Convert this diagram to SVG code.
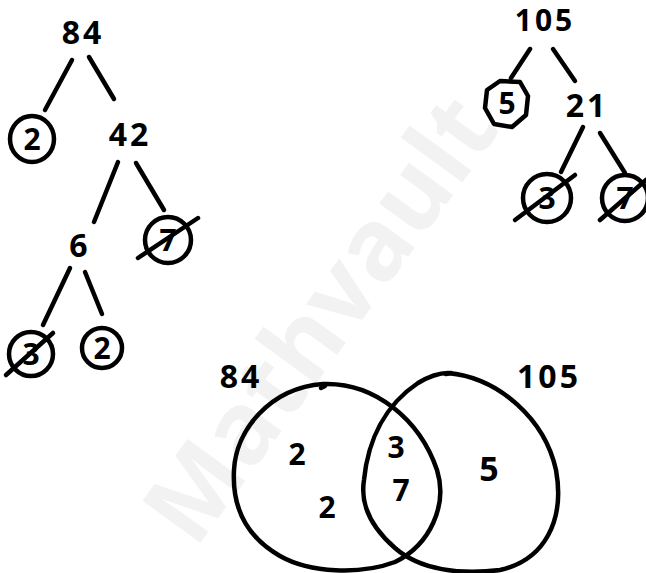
<svg xmlns="http://www.w3.org/2000/svg" width="646" height="573" viewBox="0 0 646 573">
<style>
.t{font-family:"Open Sans","DejaVu Sans",sans-serif;font-weight:700;fill:#000;text-anchor:middle}
.n{font-size:32px;letter-spacing:3px}
.s{font-size:30px}
.c{fill:none;stroke:#000;stroke-width:4.5;stroke-linecap:round;stroke-linejoin:round}
.wm{font-family:"Open Sans",sans-serif;font-weight:700;font-size:100px;fill:#f2f2f2}
</style>
<rect width="646" height="573" fill="#fff"/>
<text class="wm" transform="translate(195,550) rotate(-54)">Mathvault</text>

<g id="connectors" class="c">
  <path d="M72,60 L45,110"/>
  <path d="M89,57 L114,99"/>
  <path d="M118,162 L94,222"/>
  <path d="M136,163 L164,210"/>
  <path d="M70,268 L43,325"/>
  <path d="M85,272 L102,314"/>
  <path d="M530,49 L511,78"/>
  <path d="M553,49 L575,81"/>
  <path d="M583,127 L561,172"/>
  <path d="M600,133 L625,173"/>
</g>

<g id="n84"><text class="t n" x="83" y="44">84</text></g>
<g id="n2a"><ellipse class="c" cx="32" cy="139" rx="22" ry="23"/><text class="t s" x="32" y="150">2</text></g>
<g id="n42"><text class="t n" x="130" y="146">42</text></g>
<g id="n6"><text class="t n" x="80" y="257">6</text></g>
<g id="n7a"><circle class="c" cx="168" cy="240" r="23"/><text class="t s" x="168" y="251">7</text><path class="c" d="M138,258 L198,218"/></g>
<g id="n3a"><circle class="c" cx="31" cy="354" r="22"/><text class="t s" x="31" y="365">3</text><path class="c" d="M6,375 L53,333"/></g>
<g id="n2b"><circle class="c" cx="102" cy="348" r="20"/><text class="t s" x="102" y="359">2</text></g>

<g id="n105"><text class="t" style="font-size:30px;letter-spacing:3px" x="545" y="31">105</text></g>
<g id="n5"><path class="c" d="M500,81 L520,82 L528,96 L526,115 L512,127 L494,124 L485,108 L487,90 Z"/><text class="t s" x="507" y="114">5</text></g>
<g id="n21"><text class="t n" x="587" y="117">21</text></g>
<g id="n3b"><circle class="c" cx="547" cy="198" r="24"/><text class="t s" x="547" y="209">3</text><path class="c" d="M515,220 L575,175"/></g>
<g id="n7b"><circle class="c" cx="625" cy="198" r="23"/><text class="t s" x="625" y="209">7</text><path class="c" d="M600,220 L646,180"/></g>

<g id="venn">
  <text class="t n" x="241" y="388">84</text>
  <text class="t n" x="549" y="388">105</text>
  <path class="c" d="M323,384 C375,382 420,420 437,470 C448,505 430,545 395,562 C360,575 310,573 280,556 C245,536 232,505 234,470 C236,430 270,388 323,384 Z"/>
  <path class="c" d="M448,373 C500,378 545,420 556,470 C565,520 545,560 500,570 C460,575 420,570 395,548 C372,528 360,505 364,480 C368,440 385,405 418,383 C428,377 438,373 448,373 Z"/>
  <path class="c" d="M321,388 L325,386"/>
  <path class="c" d="M446,374 L451,373"/>
  <text class="t s" x="297" y="465">2</text>
  <text class="t s" x="327" y="518">2</text>
  <text class="t s" x="396" y="458">3</text>
  <text class="t s" x="401" y="501">7</text>
  <text class="t" style="font-size:34px" x="489" y="481">5</text>
</g>
</svg>
